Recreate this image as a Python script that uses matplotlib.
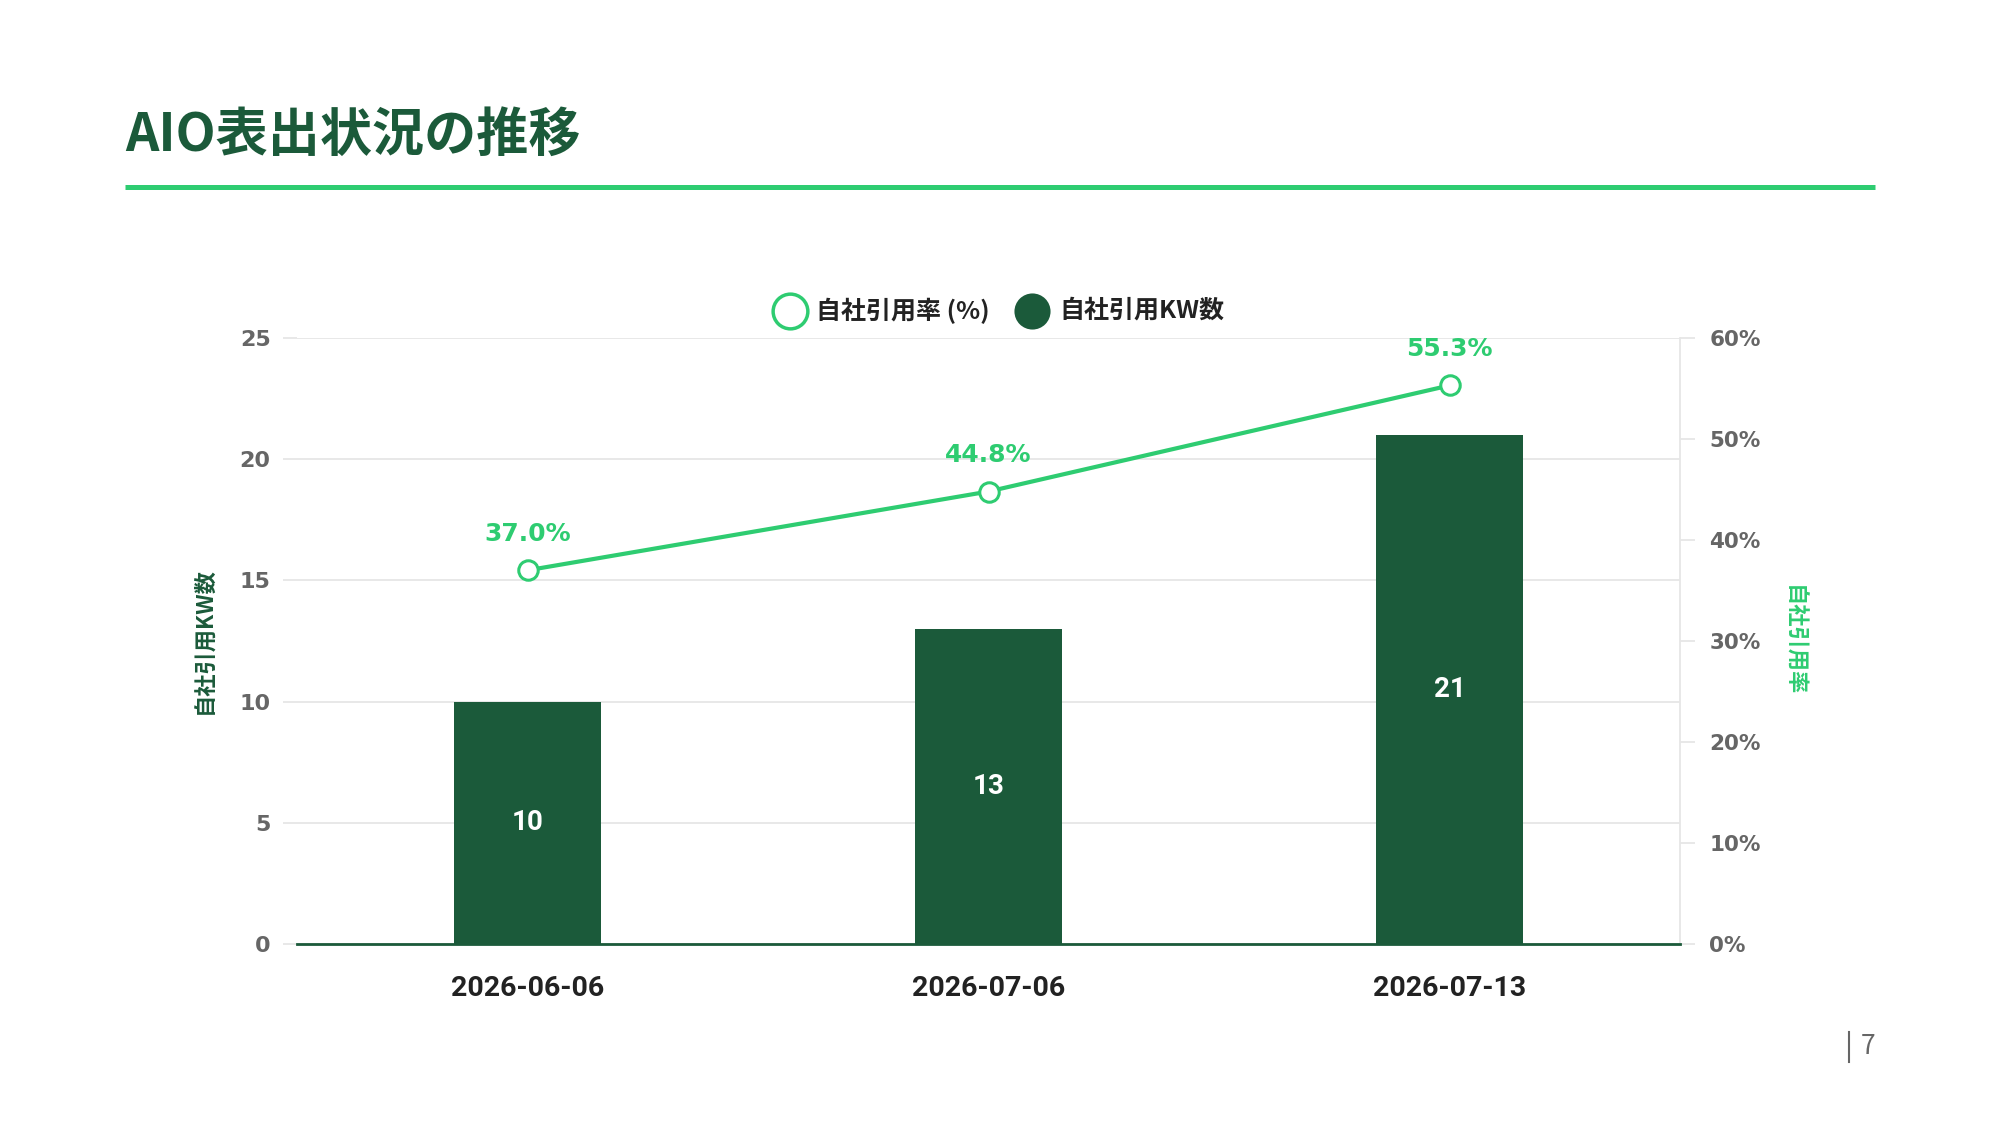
import matplotlib
matplotlib.use('Agg')
import matplotlib.pyplot as plt
from matplotlib.lines import Line2D

plt.rcParams['font.family'] = ['Noto Sans CJK JP', 'DejaVu Sans']

# data
dates = ['2026-06-06', '2026-07-06', '2026-07-13']
kw_counts = [10, 13, 21]
cite_rate = [37.0, 44.8, 55.3]
count_ticks = [0, 5, 10, 15, 20, 25]
rate_ticks = [0, 10, 20, 30, 40, 50, 60]
legend_labels = ['自社引用率 (%)', '自社引用KW数']

dark = '#1b5a3a'
green = '#2ecc71'
grey = '#666666'
light = '#e6e6e6'

fig = plt.figure(figsize=(20, 11.25), dpi=100)
W, H = 2000, 1125

# title + rule
fig.text(125 / W, 1 - 151 / H, 'AIO表出状況の推移', fontsize=37.5, fontweight='bold',
         color=dark, va='baseline', ha='left')
fig.add_artist(Line2D([125 / W, 1875 / W], [1 - 186.5 / H] * 2, lw=3.6, color=green,
                      solid_capstyle='butt'))

ax = fig.add_axes([297 / W, 1 - 944 / H, (1680 - 297) / W, (944 - 338) / H])
ax2 = ax.twinx()

x = list(range(len(dates)))
ax.bar(x, kw_counts, width=0.32, color=dark, zorder=2)
for i, v in zip(x, kw_counts):
    ax.text(i, v / 2, str(v), color='white', ha='center', va='center',
            fontsize=20, fontweight='bold', family=['Roboto', 'DejaVu Sans'])

ax.set_xlim(-0.5, len(dates) - 0.5)
ax.set_ylim(0, 25)
ax.set_yticks(count_ticks)
ax.set_yticklabels([str(t) for t in count_ticks], fontsize=16, fontweight='bold',
                   color=grey, family='DejaVu Sans')
ax.yaxis.grid(True, color=light, lw=1.3)
ax.set_axisbelow(True)
ax.tick_params(axis='y', length=10, width=1.3, color=light, pad=9)
ax.set_xticks(x)
ax.set_xticklabels(dates, fontsize=20.5, fontweight='bold', color='#222222',
                   family=['Roboto', 'DejaVu Sans'])
ax.tick_params(axis='x', length=0, pad=22)
for s in ['left', 'top', 'right', 'bottom']:
    ax.spines[s].set_visible(False)

ax2.plot(x, cite_rate, color=green, lw=3, marker='o', ms=14, mfc='white',
         mec=green, mew=2.2, zorder=5)
for i, v in zip(x, cite_rate):
    ax2.annotate(f'{v:.1f}%', (i, v), xytext=(0, 26), textcoords='offset points',
                 ha='center', va='center', fontsize=18, fontweight='bold',
                 color=green, family='DejaVu Sans')
ax2.set_ylim(0, 60)
ax2.set_yticks(rate_ticks)
ax2.set_yticklabels([f'{t}%' for t in rate_ticks], fontsize=15.5, fontweight='bold',
                    color=grey, family='DejaVu Sans')
ax2.tick_params(axis='y', length=11, width=1.3, color=light, pad=10)
for s in ['left', 'top']:
    ax2.spines[s].set_visible(False)
ax2.spines['right'].set_color(light)
ax2.spines['right'].set_linewidth(1.3)
ax2.spines['bottom'].set_color(dark)
ax2.spines['bottom'].set_linewidth(2)

# axis titles
fig.text(204 / W, 1 - 641 / H, '自社引用KW数', rotation=90, ha='center', va='center',
         fontsize=16, fontweight='bold', color=dark)
fig.text(1793 / W, 1 - 641 / H, '自社引用率', rotation=-90, ha='center', va='center',
         fontsize=16, fontweight='bold', color=green)

# legend, drawn by hand
ly = 1 - 311 / H
fig.add_artist(Line2D([790 / W], [ly], ls='', marker='o', ms=25, mfc='white',
                      mec=green, mew=2.5))
fig.add_artist(Line2D([1032 / W], [ly], ls='', marker='o', ms=26, mfc=dark,
                      mec=dark, mew=0))
for lx, lab in zip([816, 1059], legend_labels):
    fig.text(lx / W, ly, lab, ha='left', va='center', fontsize=18,
             fontweight='bold', color='#222222')

# page number
fig.add_artist(Line2D([1849 / W] * 2, [1 - 1032 / H, 1 - 1062 / H], lw=1.5, color=grey))
fig.text(1861 / W, 1 - 1047 / H, '7', fontsize=19, color=grey, ha='left', va='center')

fig.savefig('out.png', dpi=100, facecolor='white')
